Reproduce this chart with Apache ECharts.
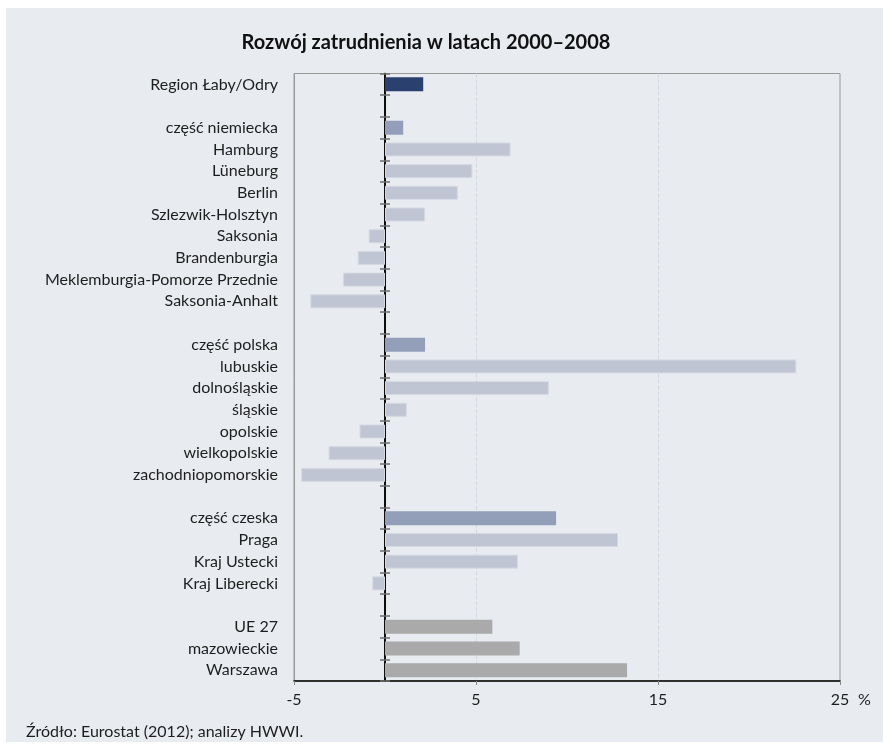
<!DOCTYPE html>
<html>
<head>
<meta charset="utf-8">
<script src="https://cdn.jsdelivr.net/npm/echarts@6/dist/echarts.min.js"></script>
<style>
html,body{margin:0;padding:0;background:#ffffff;}
#chart{width:883px;height:745px;}
</style>
</head>
<body>
<div id="chart"></div>
<script>
// categories (blank entries = spacer rows between groups)
const categories = [
  'Region Łaby/Odry', ' ',
  'część niemiecka', 'Hamburg', 'Lüneburg', 'Berlin', 'Szlezwik-Holsztyn',
  'Saksonia', 'Brandenburgia', 'Meklemburgia-Pomorze Przednie', 'Saksonia-Anhalt', '  ',
  'część polska', 'lubuskie', 'dolnośląskie', 'śląskie', 'opolskie', 'wielkopolskie',
  'zachodniopomorskie', '   ',
  'część czeska', 'Praga', 'Kraj Ustecki', 'Kraj Liberecki', '    ',
  'UE 27', 'mazowieckie', 'Warszawa'
];
// employment change 2000–2008, %
const values = [
  2.1, null,
  1.0, 6.9, 4.8, 4.0, 2.2,
  -0.9, -1.5, -2.3, -4.1, null,
  2.2, 22.6, 9.0, 1.2, -1.4, -3.1,
  -4.6, null,
  9.4, 12.8, 7.3, -0.7, null,
  5.9, 7.4, 13.3
];
// row kinds: total, part (country share), region, reference
const kinds = [
  'total', '',
  'part', 'region', 'region', 'region', 'region',
  'region', 'region', 'region', 'region', '',
  'part', 'region', 'region', 'region', 'region', 'region',
  'region', '',
  'part', 'region', 'region', 'region', '',
  'ref', 'ref', 'ref'
];
const xTicks = { min: -5, max: 25, interval: 10 };
const unitLabel = '%';
const titleText = 'Rozwój zatrudnienia w latach 2000–2008';
const sourceText = 'Źródło: Eurostat (2012); analizy HWWI.';

const kindStyle = {
  total:  { color: '#2a416f' },
  part:   { color: '#939fb8' },
  region: { color: '#bfc5d3', borderColor: '#d4d9e2', borderWidth: 1 },
  ref:    { color: '#aaaaaa' }
};

const FONT = 'Lato';
const chart = echarts.init(document.getElementById('chart'), null, { renderer: 'canvas' });

const seriesData = values.map((v, i) => ({
  value: v,
  itemStyle: kindStyle[kinds[i]] || {}
}));

const catAxisBase = {
  type: 'category',
  data: categories,
  inverse: true,
  axisLabel: { show: false },
  splitLine: { show: false }
};

chart.setOption({
  backgroundColor: '#ffffff',
  animation: false,
  textStyle: { fontFamily: FONT },
  title: {
    text: titleText,
    left: 421,
    textAlign: 'center',
    top: 28,
    textStyle: { fontFamily: FONT, fontSize: 20, fontWeight: 'bold', color: '#111111' }
  },
  graphic: [
    {
      type: 'rect', z: -100, silent: true,
      shape: { x: 6, y: 8, width: 877, height: 734 },
      style: { fill: '#e8ebf0' }
    },
    {
      type: 'text', z: 10, silent: true,
      style: {
        text: sourceText, x: 26, y: 732, verticalAlign: 'middle',
        fontFamily: FONT, fontSize: 16, fill: '#1e1e1e'
      }
    }
  ],
  grid: {
    left: 294, right: 43, top: 73.5, bottom: 64,
    show: true, borderColor: '#9a9a9a', borderWidth: 1, backgroundColor: 'transparent'
  },
  xAxis: {
    type: 'value',
    min: xTicks.min, max: xTicks.max, interval: xTicks.interval,
    position: 'bottom',
    name: unitLabel,
    nameLocation: 'end',
    nameGap: 18,
    nameTextStyle: { fontFamily: FONT, fontSize: 16, color: '#1e1e1e', verticalAlign: 'top', padding: [11, 0, 0, 0] },
    axisLine: { show: true, onZero: false, lineStyle: { color: '#000000', width: 1.5 } },
    axisTick: { show: true, length: 4, lineStyle: { color: '#888888' } },
    axisLabel: { fontFamily: FONT, fontSize: 16, color: '#1e1e1e', margin: 11 },
    splitLine: { show: true, showMinLine: false, showMaxLine: false, lineStyle: { color: '#d4d7dd', type: 'dashed', width: 1 } }
  },
  yAxis: [
    Object.assign({}, catAxisBase, {
      position: 'left',
      axisLine: { show: true, onZero: false, lineStyle: { color: '#9a9a9a' } },
      axisTick: { show: false },
      axisLabel: { show: true, fontFamily: FONT, fontSize: 16, color: '#1e1e1e', margin: 16 }
    }),
    Object.assign({}, catAxisBase, {
      position: 'right',
      axisLine: { show: true, onZero: true, onZeroAxisIndex: 0, lineStyle: { color: '#000000', width: 1.5 } },
      axisTick: { show: true, length: 5, alignWithLabel: false, lineStyle: { color: '#6f6f6f', width: 1.5 } }
    }),
    Object.assign({}, catAxisBase, {
      position: 'right',
      axisLine: { show: true, onZero: true, onZeroAxisIndex: 0, lineStyle: { color: '#000000', width: 1.5 } },
      axisTick: { show: true, length: 5, inside: true, alignWithLabel: false, lineStyle: { color: '#6f6f6f', width: 1.5 } }
    })
  ],
  series: [
    {
      type: 'bar',
      yAxisIndex: 0,
      data: seriesData,
      barWidth: 14,
      z: 1
    }
  ]
});
</script>
</body>
</html>
